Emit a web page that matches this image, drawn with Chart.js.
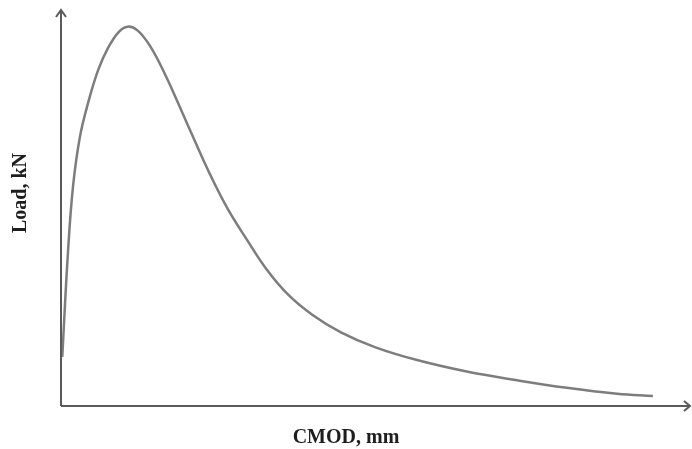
<!DOCTYPE html>
<html>
<head>
<meta charset="utf-8">
<script src="https://cdn.jsdelivr.net/npm/chart.js@4"></script>
<style>
  html, body { margin: 0; padding: 0; background: #fff; }
  #wrap { width: 692px; height: 449px; }
</style>
</head>
<body>
<div id="wrap"><canvas id="myChart"></canvas></div>
<script>
// CMOD (arbitrary units, 0-10 along the axis) and load (0-10)
const cmod = [0.02, 0.11, 0.19, 0.30, 0.43, 0.59, 0.75, 0.92, 1.06, 1.22, 1.42, 1.64, 1.87, 2.10, 2.36, 2.66, 2.96, 3.27, 3.62, 4.00, 4.45, 5.00, 5.66, 6.45, 7.25, 8.04, 8.84, 9.41];
const load = [1.24, 3.86, 5.53, 6.79, 7.65, 8.48, 9.05, 9.45, 9.58, 9.48, 9.08, 8.42, 7.62, 6.79, 5.88, 4.95, 4.19, 3.45, 2.80, 2.30, 1.86, 1.48, 1.16, 0.87, 0.65, 0.46, 0.31, 0.25];
const xTitle = 'CMOD, mm';
const yTitle = 'Load, kN';

const points = cmod.map((x, i) => ({x: x, y: load[i]}));

// axes with open arrowheads + titles
const axesPlugin = {
  id: 'axes',
  afterDraw(chart) {
    const c = chart.ctx;
    const a = chart.chartArea;
    c.save();
    c.strokeStyle = '#5a5a5a';
    c.lineWidth = 2;
    c.beginPath();
    c.moveTo(a.left, a.bottom);
    c.lineTo(a.left, a.top);
    c.moveTo(a.left, a.bottom);
    c.lineTo(a.right, a.bottom);
    // y arrow
    c.moveTo(a.left - 5, a.top + 7);
    c.lineTo(a.left, a.top);
    c.lineTo(a.left + 5, a.top + 7);
    // x arrow
    c.moveTo(a.right - 6, a.bottom - 5);
    c.lineTo(a.right, a.bottom);
    c.lineTo(a.right - 6, a.bottom + 5);
    c.stroke();

    c.fillStyle = '#1e1e1e';
    c.font = 'bold 20px "Liberation Serif", "Times New Roman", serif';
    c.textAlign = 'center';
    c.textBaseline = 'middle';
    c.fillText(xTitle, 346, 438);
    c.translate(21, 193);
    c.rotate(-Math.PI / 2);
    c.fillText(yTitle, 0, 0);
    c.restore();
  }
};

new Chart(document.getElementById('myChart').getContext('2d'), {
  type: 'scatter',
  data: {
    datasets: [{
      data: points,
      showLine: true,
      borderColor: '#7d7d7d',
      borderWidth: 2.5,
      pointRadius: 0,
      tension: 0.4,
      clip: false
    }]
  },
  options: {
    responsive: true,
    maintainAspectRatio: false,
    animation: false,
    layout: { padding: { left: 61, right: 2, top: 10, bottom: 43 } },
    plugins: { legend: { display: false }, tooltip: { enabled: false } },
    scales: {
      x: { type: 'linear', min: 0, max: 10, display: false },
      y: { type: 'linear', min: 0, max: 10, display: false }
    }
  },
  plugins: [axesPlugin]
});
</script>
</body>
</html>
